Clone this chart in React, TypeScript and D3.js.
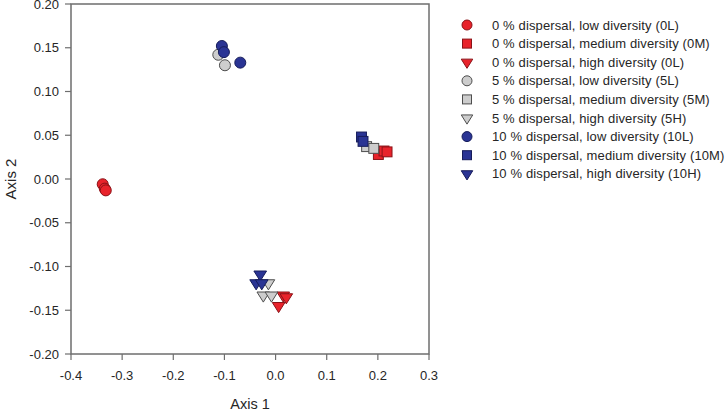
import React from "react";
import * as d3 from "d3";

const xTicks = [-0.4, -0.3, -0.2, -0.1, 0.0, 0.1, 0.2, 0.3];
const yTicks = [-0.2, -0.15, -0.1, -0.05, 0.0, 0.05, 0.1, 0.15, 0.2];

// [axis1, axis2]
const d0L: [number, number][] = [[-0.338, -0.006], [-0.334, -0.011], [-0.332, -0.013]];
const d0M: [number, number][] = [[0.201, 0.028], [0.212, 0.032], [0.218, 0.031]];
const d0H: [number, number][] = [[0.015, -0.133], [0.021, -0.135], [0.006, -0.145]];
const d5L: [number, number][] = [[-0.112, 0.142], [-0.099, 0.130]];
const d5M: [number, number][] = [[0.178, 0.037], [0.192, 0.035]];
const d5H: [number, number][] = [[-0.014, -0.119], [-0.024, -0.133], [-0.008, -0.133]];
const d10L: [number, number][] = [[-0.105, 0.152], [-0.101, 0.145], [-0.069, 0.133]];
const d10M: [number, number][] = [[0.168, 0.048], [0.171, 0.043]];
const d10H: [number, number][] = [[-0.030, -0.109], [-0.038, -0.119], [-0.027, -0.119]];

const RED = { fill: "#e8232b", stroke: "#8a1217" };
const GRAY = { fill: "#cdcdcd", stroke: "#4d4d4d" };
const BLUE = { fill: "#2a3494", stroke: "#161c5a" };

const series = [
  { label: "0 % dispersal, low diversity (0L)", shape: "circle", color: RED, data: d0L },
  { label: "0 % dispersal, medium diversity (0M)", shape: "square", color: RED, data: d0M },
  { label: "0 % dispersal, high diversity (0L)", shape: "triangle", color: RED, data: d0H },
  { label: "5 % dispersal, low diversity (5L)", shape: "circle", color: GRAY, data: d5L },
  { label: "5 % dispersal, medium diversity (5M)", shape: "square", color: GRAY, data: d5M },
  { label: "5 % dispersal, high diversity (5H)", shape: "triangle", color: GRAY, data: d5H },
  { label: "10 % dispersal, low diversity (10L)", shape: "circle", color: BLUE, data: d10L },
  { label: "10 % dispersal, medium diversity (10M)", shape: "square", color: BLUE, data: d10M },
  { label: "10 % dispersal, high diversity (10H)", shape: "triangle", color: BLUE, data: d10H },
];

function Marker({ shape, x, y, r, fill, stroke }: any) {
  if (shape === "circle") {
    return <circle cx={x} cy={y} r={r} fill={fill} stroke={stroke} strokeWidth={1} />;
  }
  if (shape === "square") {
    const s = r * 1.8;
    return <rect x={x - s / 2} y={y - s / 2} width={s} height={s} fill={fill} stroke={stroke} strokeWidth={1} />;
  }
  const w = r * 1.15;
  const h = w * 1.6;
  const d = `M${x - w},${y - h / 3}L${x + w},${y - h / 3}L${x},${y + (2 * h) / 3}Z`;
  return <path d={d} fill={fill} stroke={stroke} strokeWidth={1} strokeLinejoin="miter" />;
}

const fmt = (f: string) => (v: number) => d3.format(f)(v).replace("\u2212", "-");

export default function App() {
  const W = 728, H = 411;
  const left = 71, right = 429, top = 4, bottom = 354;
  const x = d3.scaleLinear().domain([-0.4, 0.3]).range([left, right]);
  const y = d3.scaleLinear().domain([-0.2, 0.2]).range([bottom, top]);
  const font = "Liberation Sans, Arial, sans-serif";
  const textColor = "#262626";
  const axisColor = "#6e6e6e";

  return (
    <svg width={W} height={H} style={{ position: "absolute", left: 0, top: 0, background: "#fff" }} fontFamily={font}>
      <rect x={left} y={top} width={right - left} height={bottom - top} fill="none" stroke={axisColor} strokeWidth={1.5} />
      {xTicks.map((t) => (
        <g key={"x" + t}>
          <line x1={x(t)} x2={x(t)} y1={bottom} y2={bottom + 6} stroke={axisColor} strokeWidth={1.2} />
          <text x={x(t)} y={bottom + 25.5} textAnchor="middle" fontSize={13} fill={textColor}>
            {fmt(".1f")(t)}
          </text>
        </g>
      ))}
      {yTicks.map((t) => (
        <g key={"y" + t}>
          <line x1={left - 6} x2={left} y1={y(t)} y2={y(t)} stroke={axisColor} strokeWidth={1.2} />
          <text x={left - 12} y={y(t) + 4.5} textAnchor="end" fontSize={13} fill={textColor}>
            {fmt(".2f")(t)}
          </text>
        </g>
      ))}
      <text x={(left + right) / 2} y={409} textAnchor="middle" fontSize={14.5} fill={textColor}>Axis 1</text>
      <text transform={`translate(16,${(top + bottom) / 2}) rotate(-90)`} textAnchor="middle" fontSize={15} fill={textColor}>Axis 2</text>
      {series.map((s, i) => (
        <g key={"s" + i}>
          {s.data.map((p, j) => (
            <Marker key={j} shape={s.shape} x={x(p[0])} y={y(p[1])} r={5.5} fill={s.color.fill} stroke={s.color.stroke} />
          ))}
        </g>
      ))}
      {series.map((s, i) => {
        const ly = 25 + i * 18.6;
        return (
          <g key={"l" + i}>
            <Marker shape={s.shape} x={467} y={ly} r={5} fill={s.color.fill} stroke={s.color.stroke} />
            <text x={492} y={ly + 4.5} fontSize={13} letterSpacing={0.13} fill={textColor}>{s.label}</text>
          </g>
        );
      })}
    </svg>
  );
}
